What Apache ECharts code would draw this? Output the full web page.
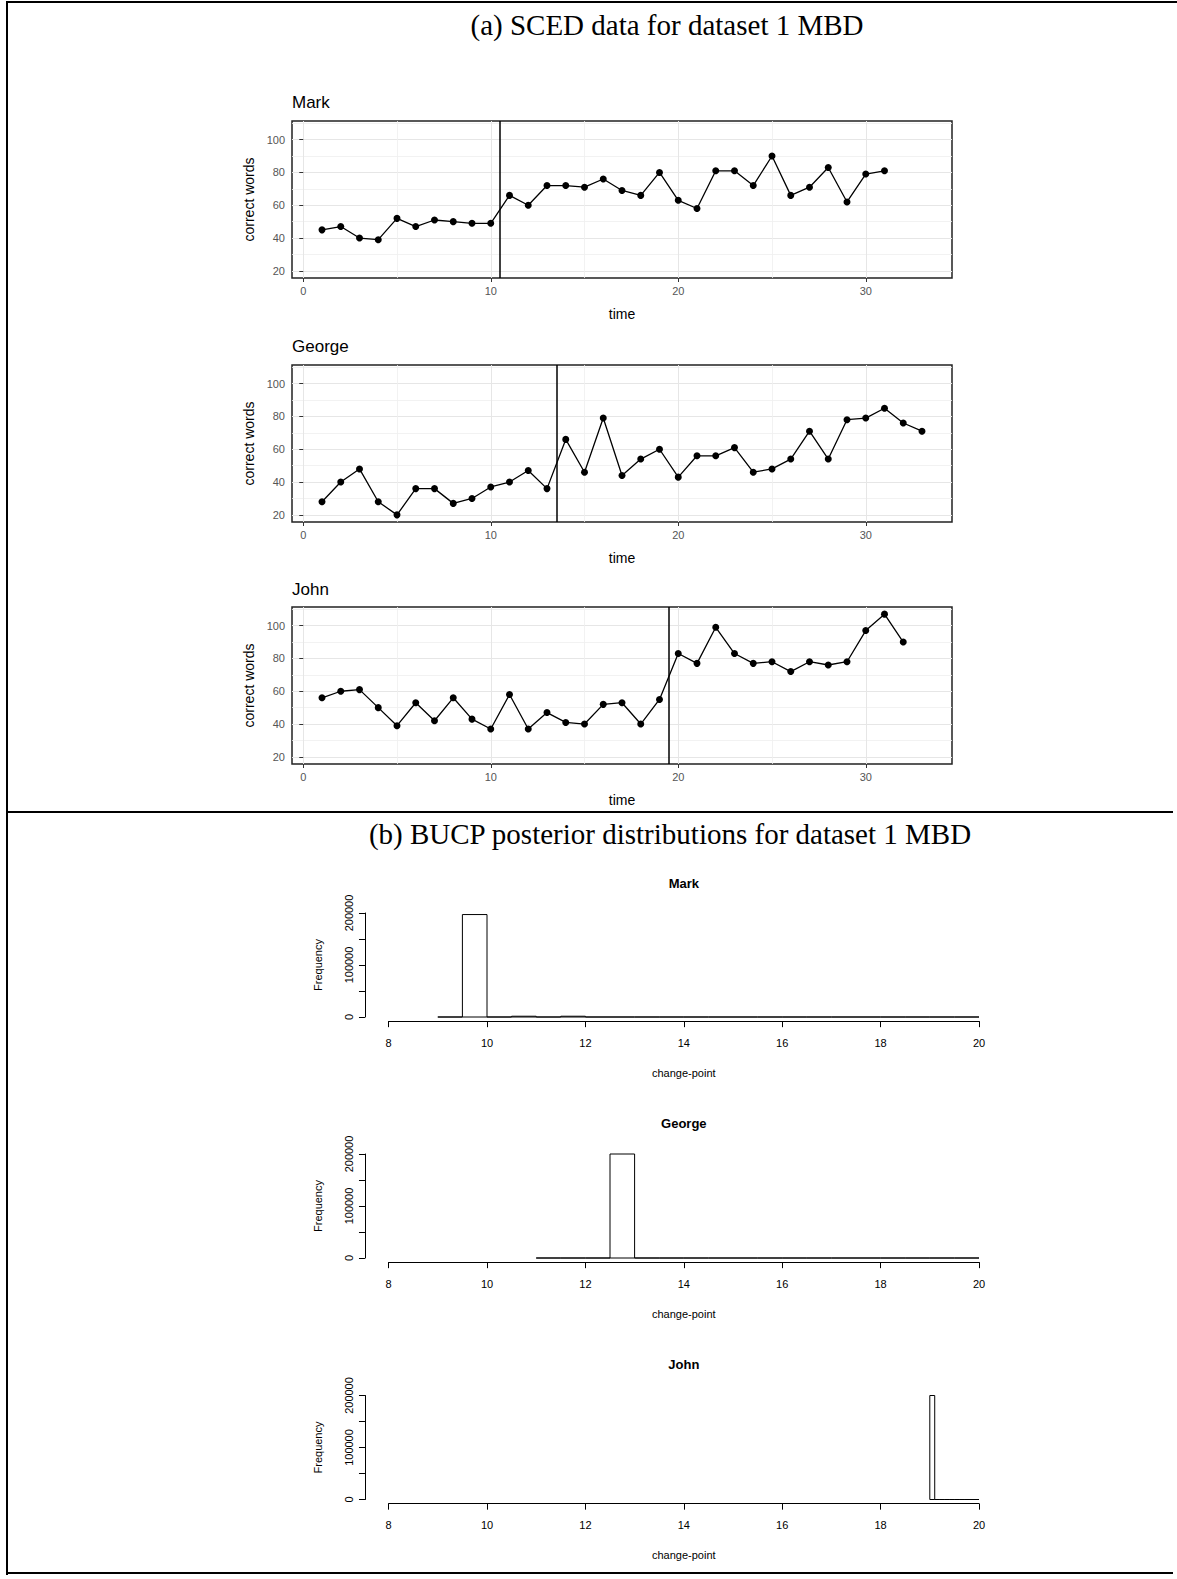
<!DOCTYPE html>
<html><head><meta charset="utf-8">
<script src="https://cdn.jsdelivr.net/npm/echarts@6/dist/echarts.min.js"></script>
<style>
html,body{margin:0;padding:0;background:#fff;}
#chart{position:absolute;left:0;top:0;width:1177px;height:1579px;}
.b{position:absolute;background:#000;}
</style></head><body>
<div id="chart"></div>
<div class="b" style="left:6px;top:1px;width:1171px;height:2px"></div>
<div class="b" style="left:6px;top:1px;width:2px;height:1574px"></div>
<div class="b" style="left:6px;top:811px;width:1167px;height:2px"></div>
<div class="b" style="left:6px;top:1572px;width:1167px;height:2px"></div>
<script>
// ---------- (a) SCED data ----------
const students = ['Mark', 'George', 'John'];
const markWords = [45, 47, 40, 39, 52, 47, 51, 50, 49, 49, 66, 60, 72, 72, 71, 76, 69, 66, 80, 63, 58, 81, 81, 72, 90, 66, 71, 83, 62, 79, 81];
const georgeWords = [28, 40, 48, 28, 20, 36, 36, 27, 30, 37, 40, 47, 36, 66, 46, 79, 44, 54, 60, 43, 56, 56, 61, 46, 48, 54, 71, 54, 78, 79, 85, 76, 71];
const johnWords = [56, 60, 61, 50, 39, 53, 42, 56, 43, 37, 58, 37, 47, 41, 40, 52, 53, 40, 55, 83, 77, 99, 83, 77, 78, 72, 78, 76, 78, 97, 107, 90];
const phaseChange = [10.5, 13.5, 19.5];
const timeTicks = [0, 10, 20, 30];
const wordTicks = [20, 40, 60, 80, 100];

// ---------- (b) BUCP posterior histograms ----------
const markBreaks = [9, 9.5, 10, 10.5, 11, 11.5, 12, 12.5, 13, 13.5, 14, 14.5, 15, 15.5, 16, 16.5, 17, 17.5, 18, 18.5, 19, 19.5, 20];
const markCounts = [0, 197000, 0, 1500, 0, 1500, 0, 0, 0, 0, 0, 0, 0, 0, 0, 0, 0, 0, 0, 0, 0, 0];
const georgeBreaks = [11, 11.5, 12, 12.5, 13, 13.5, 14, 14.5, 15, 15.5, 16, 16.5, 17, 17.5, 18, 18.5, 19, 19.5, 20];
const georgeCounts = [0, 0, 0, 200000, 0, 0, 0, 0, 0, 0, 0, 0, 0, 0, 0, 0, 0, 0];
const johnBreaks = [19, 19.1, 19.2, 19.3, 19.4, 19.5, 19.6, 19.7, 19.8, 19.9, 20];
const johnCounts = [200000, 0, 0, 0, 0, 0, 0, 0, 0, 0];
const cpTicks = [8, 10, 12, 14, 16, 18, 20];
const freqTicks = [0, 100000, 200000];

const wordsByStudent = [markWords, georgeWords, johnWords];
const histBreaks = [markBreaks, georgeBreaks, johnBreaks];
const histCounts = [markCounts, georgeCounts, johnCounts];

const chart = echarts.init(document.getElementById('chart'), null, {renderer: 'svg', width: 1177, height: 1579});

const SANS = 'Liberation Sans, Arial, sans-serif';
const SERIF = 'Liberation Serif, Times New Roman, serif';
const grids = [], xAxes = [], yAxes = [], series = [], graphics = [];

// layout (a)
const aTops = [121, 365, 607];
const aTitleY = [102, 346, 589];
for (let i = 0; i < 3; i++) {
  grids.push({left: 292, top: aTops[i], width: 660, height: 157, show: true, borderColor: '#222', borderWidth: 1.5, backgroundColor: 'rgba(0,0,0,0)'});
  xAxes.push({
    gridIndex: i, type: 'value', min: -0.6, max: 34.6, splitNumber: 4,
    axisLine: {show: false},
    axisTick: {show: true, customValues: timeTicks, length: 4, lineStyle: {color: '#333', width: 1}},
    axisLabel: {customValues: timeTicks, color: '#555555', fontSize: 11, fontFamily: SANS, margin: 7},
    splitLine: {show: true, lineStyle: {color: '#e6e6e6', width: 1}},
    minorTick: {show: false, splitNumber: 2},
    minorSplitLine: {show: true, lineStyle: {color: '#efefef', width: 0.8}},
    name: 'time', nameLocation: 'middle', nameGap: 29,
    nameTextStyle: {color: '#000', fontSize: 14, fontFamily: SANS}
  });
  yAxes.push({
    gridIndex: i, type: 'value', min: 15.65, max: 111.35, splitNumber: 5,
    axisLine: {show: false},
    axisTick: {show: true, customValues: wordTicks, length: 4, lineStyle: {color: '#333', width: 1}},
    axisLabel: {customValues: wordTicks, color: '#555555', fontSize: 11, fontFamily: SANS, margin: 7},
    splitLine: {show: true, lineStyle: {color: '#e6e6e6', width: 1}},
    minorTick: {show: false, splitNumber: 2},
    minorSplitLine: {show: true, lineStyle: {color: '#efefef', width: 0.8}},
    name: 'correct words', nameLocation: 'middle', nameGap: 30,
    nameTextStyle: {color: '#000', fontSize: 14, fontFamily: SANS}
  });
  series.push({
    type: 'line', xAxisIndex: i, yAxisIndex: i,
    data: wordsByStudent[i].map((v, k) => [k + 1, v]),
    symbol: 'circle', symbolSize: 7, showSymbol: true,
    itemStyle: {color: '#000'}, lineStyle: {color: '#000', width: 1.3},
    animation: false,
    markLine: {
      silent: true, symbol: ['none', 'none'], label: {show: false},
      lineStyle: {color: '#000', width: 1.5, type: 'solid'},
      data: [{xAxis: phaseChange[i]}], animation: false
    }
  });
  graphics.push({type: 'text', x: 292, y: aTitleY[i],
    style: {text: students[i], fill: '#000', font: '17px ' + SANS, align: 'left', verticalAlign: 'middle'}});
}

// layout (b)
const bZero = [1017, 1258, 1499.5];
const bTitleY = [883, 1123, 1364];
const PXU = 49.2;            // px per change-point unit
const H = 104;               // px for 0..200000
const xLeft8 = 388.6;
function renderHist(params, api) {
  const a = api.coord([api.value(0), api.value(2)]);
  const b = api.coord([api.value(1), 0]);
  return {type: 'polygon', shape: {points: [[a[0], b[1]], [a[0], a[1]], [b[0], a[1]], [b[0], b[1]]]},
    style: {fill: 'none', stroke: '#000', lineWidth: 1}};
}
for (let k = 0; k < 3; k++) {
  const y0 = bZero[k];
  const gD = grids.length, gY = gD + 1, gX = gD + 2;
  grids.push({left: xLeft8 - 0.48 * PXU, top: y0 - H * 1.04, width: 12.96 * PXU, height: H * 1.08, show: false});
  grids.push({left: xLeft8 - 0.48 * PXU, top: y0 - H, width: 10, height: H, show: false});
  grids.push({left: xLeft8, top: y0 - H, width: 12 * PXU, height: H * 1.04, show: false});

  xAxes.push({gridIndex: gD, type: 'value', min: 7.52, max: 20.48, show: false});
  yAxes.push({gridIndex: gD, type: 'value', min: -8000, max: 208000, show: false});

  xAxes.push({gridIndex: gY, type: 'value', min: 0, max: 1, show: false});
  yAxes.push({gridIndex: gY, type: 'value', min: 0, max: 200000, interval: 50000,
    axisLine: {show: true, lineStyle: {color: '#000', width: 1}},
    axisTick: {show: true, length: 6, lineStyle: {color: '#000', width: 1}},
    axisLabel: {rotate: 90, color: '#000', fontSize: 11, fontFamily: SANS, margin: 10,
      formatter: v => (freqTicks.indexOf(v) >= 0 ? String(v) : '')},
    splitLine: {show: false},
    name: 'Frequency', nameLocation: 'middle', nameGap: 41,
    nameTextStyle: {color: '#000', fontSize: 11, fontFamily: SANS}});

  xAxes.push({gridIndex: gX, type: 'value', min: 8, max: 20, interval: 2,
    axisLine: {show: true, lineStyle: {color: '#000', width: 1}},
    axisTick: {show: true, length: 6, lineStyle: {color: '#000', width: 1}},
    axisLabel: {color: '#000', fontSize: 11, fontFamily: SANS, margin: 16,
      formatter: v => (cpTicks.indexOf(v) >= 0 ? String(v) : '')},
    splitLine: {show: false},
    name: 'change-point', nameLocation: 'middle', nameGap: 46,
    nameTextStyle: {color: '#000', fontSize: 11, fontFamily: SANS}});
  yAxes.push({gridIndex: gX, type: 'value', min: 0, max: 1, show: false});

  const br = histBreaks[k], ct = histCounts[k];
  series.push({
    type: 'custom', xAxisIndex: gD, yAxisIndex: gD, renderItem: renderHist,
    data: ct.map((c, j) => [br[j], br[j + 1], c]), animation: false, silent: true, clip: false
  });
  graphics.push({type: 'text', x: xLeft8 + 6 * PXU, y: bTitleY[k],
    style: {text: students[k], fill: '#000', font: 'bold 13px ' + SANS, align: 'center', verticalAlign: 'middle'}});
}

graphics.push({type: 'text', x: 667, y: 25,
  style: {text: '(a) SCED data for dataset 1 MBD', fill: '#000', font: '29px ' + SERIF, align: 'center', verticalAlign: 'middle'}});
graphics.push({type: 'text', x: 670, y: 834,
  style: {text: '(b) BUCP posterior distributions for dataset 1 MBD', fill: '#000', font: '29px ' + SERIF, align: 'center', verticalAlign: 'middle'}});

chart.setOption({
  animation: false,
  backgroundColor: '#fff',
  grid: grids, xAxis: xAxes, yAxis: yAxes, series: series,
  graphic: graphics
});
</script>
</body></html>
